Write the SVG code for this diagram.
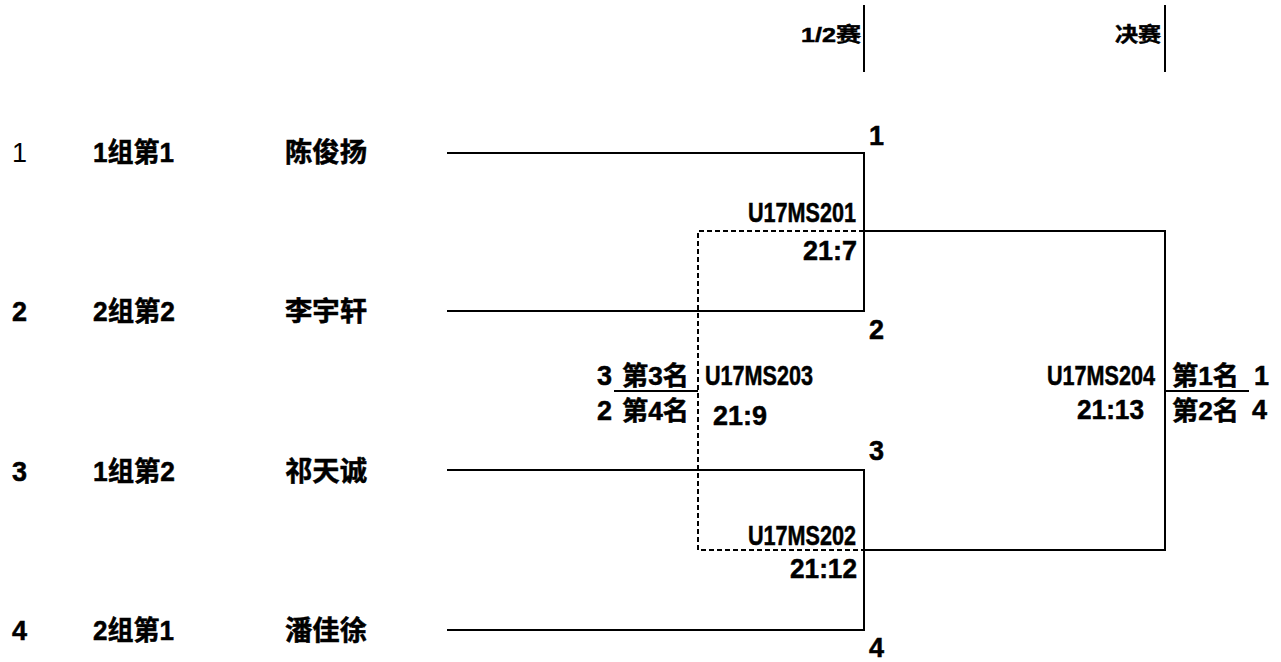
<svg xmlns="http://www.w3.org/2000/svg" width="1281" height="662" viewBox="0 0 1281 662">
<style>
text{font-family:"Liberation Sans","Noto Sans CJK SC",sans-serif;font-size:27px;font-weight:bold;fill:#000;stroke:#000;stroke-width:0.5}
.n{font-weight:normal;stroke:none}
.h{font-size:20px}
.s{font-size:26px}
.ln{fill:none;stroke:#000;stroke-width:2}
.ds{fill:none;stroke:#000;stroke-width:2;stroke-dasharray:5 3}
</style>
<rect width="1281" height="662" fill="#fff"/>
<g id="header">
<text class="h" x="801" y="42" textLength="60" lengthAdjust="spacingAndGlyphs">1/2赛</text>
<text class="h" x="1115" y="42" textLength="46" lengthAdjust="spacingAndGlyphs">决赛</text>
</g>
<g id="p1">
<text class="n" x="12" y="162">1</text>
<text x="93" y="162" textLength="81" lengthAdjust="spacingAndGlyphs">1组第1</text>
<text x="285" y="162" textLength="82" lengthAdjust="spacingAndGlyphs">陈俊扬</text>
</g>
<g id="p2">
<text x="12" y="321">2</text>
<text x="93" y="321" textLength="82" lengthAdjust="spacingAndGlyphs">2组第2</text>
<text x="285" y="321" textLength="82" lengthAdjust="spacingAndGlyphs">李宇轩</text>
</g>
<g id="p3">
<text x="12" y="481">3</text>
<text x="93" y="481" textLength="82" lengthAdjust="spacingAndGlyphs">1组第2</text>
<text x="285" y="481" textLength="82" lengthAdjust="spacingAndGlyphs">祁天诚</text>
</g>
<g id="p4">
<text x="12" y="640">4</text>
<text x="93" y="640" textLength="81" lengthAdjust="spacingAndGlyphs">2组第1</text>
<text x="285" y="640" textLength="82" lengthAdjust="spacingAndGlyphs">潘佳徐</text>
</g>
<g id="slots">
<text x="869" y="145">1</text>
<text x="869" y="339">2</text>
<text x="869" y="460">3</text>
<text x="869" y="657">4</text>
</g>
<g id="m201">
<text transform="translate(748 222) scale(0.8 1)">U17MS201</text>
<text x="803" y="260" textLength="54" lengthAdjust="spacingAndGlyphs">21:7</text>
</g>
<g id="m202">
<text transform="translate(748 545) scale(0.8 1)">U17MS202</text>
<text x="790" y="578" textLength="67" lengthAdjust="spacingAndGlyphs">21:12</text>
</g>
<g id="m203">
<text transform="translate(705 385) scale(0.8 1)">U17MS203</text>
<text x="713" y="425" textLength="54" lengthAdjust="spacingAndGlyphs">21:9</text>
<text x="597" y="385">3</text>
<text class="s" x="622" y="385" textLength="67" lengthAdjust="spacingAndGlyphs">第3名</text>
<text x="597" y="420">2</text>
<text class="s" x="622" y="420" textLength="67" lengthAdjust="spacingAndGlyphs">第4名</text>
</g>
<g id="m204">
<text transform="translate(1047 385) scale(0.8 1)">U17MS204</text>
<text x="1077" y="419" textLength="67" lengthAdjust="spacingAndGlyphs">21:13</text>
<text class="s" x="1172" y="385" textLength="67" lengthAdjust="spacingAndGlyphs">第1名</text>
<text x="1254" y="385">1</text>
<text class="s" x="1172" y="420" textLength="67" lengthAdjust="spacingAndGlyphs">第2名</text>
<text x="1252" y="419">4</text>
</g>
<g id="connectors">
<path class="ln" d="M864 5V72M1165 5V72"/>
<path class="ln" d="M447 153H864V311H447"/>
<path class="ln" d="M447 470H864V630H447"/>
<path class="ln" d="M864 231H1165V550H864"/>
<path class="ds" d="M864 231H698V550H864"/>
<path class="ln" d="M614 391H698M1165 391H1249"/>
</g>
</svg>
